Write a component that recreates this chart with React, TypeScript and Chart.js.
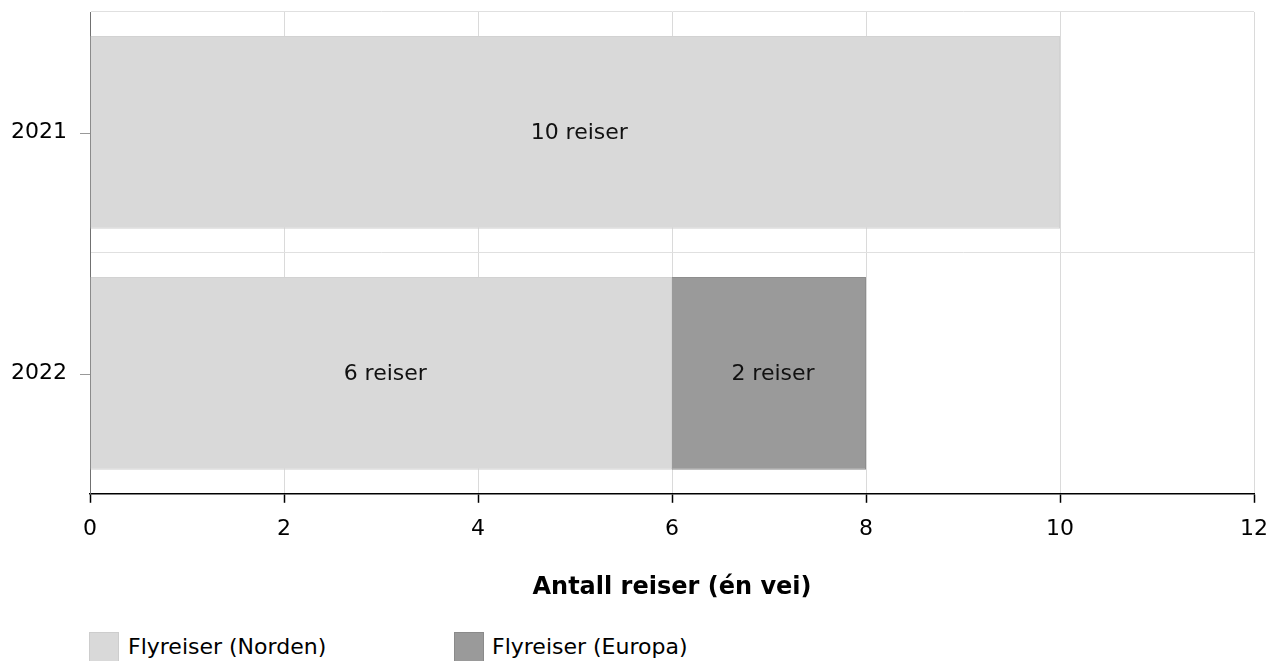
import React, { useEffect, useRef } from "react";
import { Chart, registerables } from "chart.js";

Chart.register(...registerables);

const categories = ["2021", "2022"];
const seriesLabels = ["Flyreiser (Norden)", "Flyreiser (Europa)"];
const nordenValues = [10, 6];
const europaValues = [0, 2];
const xMin = 0;
const xMax = 12;
const xStep = 2;
const xTitle = "Antall reiser (én vei)";
const unitText = "reiser";

const FONT = "'DejaVu Sans', Verdana, sans-serif";
const COLORS = ["#d9d9d9", "#9a9a9a"];
const BORDERS = ["#d2d2d2", "#8e8e8e"];

const barLabelPlugin = {
  id: "barLabels",
  afterDatasetsDraw(chart: any) {
    const ctx = chart.ctx;
    ctx.save();
    ctx.font = `22px ${FONT}`;
    ctx.fillStyle = "#111";
    ctx.textAlign = "center";
    ctx.textBaseline = "middle";
    chart.data.datasets.forEach((ds: any, i: number) => {
      const meta = chart.getDatasetMeta(i);
      meta.data.forEach((bar: any, j: number) => {
        const v = ds.data[j];
        if (!v) return;
        const p = bar.getCenterPoint();
        ctx.fillText(`${v} ${unitText}`, p.x + 4, p.y + 1);
      });
    });
    ctx.restore();
  },
};

const yTickMarks = {
  id: "yTickMarks",
  afterDraw(chart: any) {
    const ys = chart.scales.y;
    const ctx = chart.ctx;
    const left = chart.chartArea.left;
    ctx.save();
    ctx.strokeStyle = "#999";
    ctx.lineWidth = 1;
    ys.ticks.forEach((_t: any, i: number) => {
      const y = Math.round(ys.getPixelForTick(i)) + 1.5;
      ctx.beginPath();
      ctx.moveTo(left - 10, y);
      ctx.lineTo(left, y);
      ctx.stroke();
    });
    ctx.restore();
  },
};

export default function App() {
  const ref = useRef<HTMLCanvasElement | null>(null);

  useEffect(() => {
    document.body.style.marginBottom = "0";
    document.documentElement.style.overflow = "hidden";
    Chart.defaults.font.family = FONT;
    const chart = new Chart(ref.current as HTMLCanvasElement, {
      type: "bar",
      data: {
        labels: categories,
        datasets: [
          {
            label: seriesLabels[0],
            data: nordenValues,
            backgroundColor: COLORS[0],
            borderColor: BORDERS[0],
            borderWidth: 1,
            barPercentage: 0.8,
            categoryPercentage: 1,
          },
          {
            label: seriesLabels[1],
            data: europaValues,
            backgroundColor: COLORS[1],
            borderColor: BORDERS[1],
            borderWidth: 1,
            barPercentage: 0.8,
            categoryPercentage: 1,
          },
        ],
      },
      options: {
        indexAxis: "y",
        animation: false,
        responsive: true,
        maintainAspectRatio: false,
        layout: { padding: { top: 4, right: 20, left: 0, bottom: 0 } },
        plugins: {
          legend: { display: false },
          tooltip: { enabled: false },
        },
        scales: {
          x: {
            stacked: true,
            min: xMin,
            max: xMax,
            ticks: {
              stepSize: xStep,
              color: "#000",
              font: { size: 22, family: FONT },
              padding: 13,
              maxRotation: 0,
            },
            grid: {
              color: "#dadada",
              tickColor: "#000",
              tickWidth: 1.5,
              tickLength: 9,
              drawTicks: true,
            },
            border: { color: "#000", width: 1.5 },
            title: {
              display: true,
              text: xTitle,
              color: "#000",
              font: { size: 24, weight: "bold", family: FONT },
              padding: { top: 18, bottom: 0 },
            },
            afterFit: (s: any) => {
              s.paddingLeft = 0;
              s.paddingRight = 0;
            },
          },
          y: {
            stacked: true,
            ticks: {
              color: "#000",
              font: { size: 22, family: FONT },
              padding: 23,
            },
            grid: { color: "#e0e0e0", drawTicks: false, offset: true },
            border: { color: "#707070", width: 1 },
            afterFit: (s: any) => {
              s.width = 82;
              s.paddingTop = 0;
              s.paddingBottom = 0;
            },
          },
        },
      } as any,
      plugins: [barLabelPlugin, yTickMarks],
    });
    return () => chart.destroy();
  }, []);

  const legendItem = (i: number, left: number, textLeft: number) => (
    <div
      key={i}
      style={{
        position: "absolute",
        left,
        top: 624,
        height: 30,
        display: "flex",
        alignItems: "center",
      }}
    >
      <div
        style={{
          width: 28,
          height: 28,
          background: COLORS[i],
          border: `1px solid ${i === 0 ? "#cdcdcd" : "#8a8a8a"}`,
        }}
      />
      <span
        style={{
          position: "absolute",
          left: textLeft - left,
          whiteSpace: "nowrap",
          fontFamily: FONT,
          fontSize: 22,
          lineHeight: "30px",
          color: "#000",
        }}
      >
        {seriesLabels[i]}
      </span>
    </div>
  );

  return (
    <div style={{ position: "relative", width: 1266, height: 653, overflow: "hidden" }}>
      <div style={{ position: "relative", width: 1266, height: 594 }}>
        <canvas ref={ref} />
      </div>
      {legendItem(0, 81, 120)}
      {legendItem(1, 446, 484)}
    </div>
  );
}
